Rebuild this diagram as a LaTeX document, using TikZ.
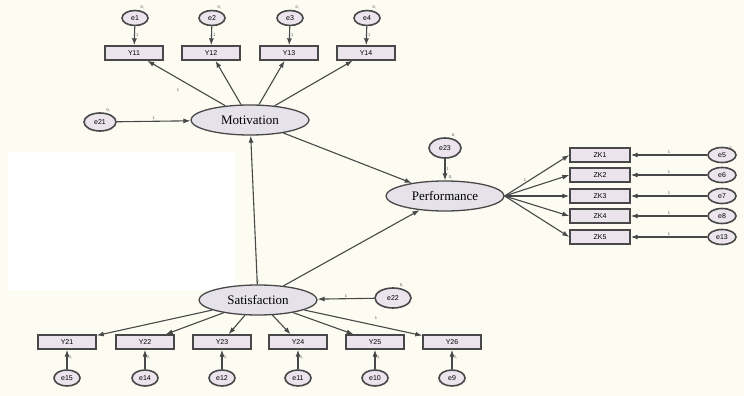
\documentclass[tikz,border=0pt]{standalone}
\usepackage{fontspec}
\setmainfont{Liberation Serif}
\setsansfont{Liberation Sans}
\usetikzlibrary{arrows.meta,shapes.geometric}
\definecolor{bg}{HTML}{FCFCF3}
\definecolor{boxfill}{HTML}{EBE4ED}
\definecolor{ellfill}{HTML}{E6E2EA}
\definecolor{edge}{HTML}{484848}
\tikzset{
  obs/.style={draw=edge, line width=1.4pt, fill=boxfill, minimum width=58pt, minimum height=14pt, inner sep=0pt, font=\sffamily\fontsize{7}{7}\selectfont},
  err/.style={ellipse, draw=edge, line width=1.6pt, fill=boxfill, minimum width=26pt, minimum height=15pt, inner sep=0pt, font=\sffamily\fontsize{7}{7}\selectfont},
  lat/.style={ellipse, draw=edge, line width=1.3pt, fill=ellfill, minimum width=118pt, minimum height=30pt, inner sep=0pt, font=\fontsize{13}{13}\selectfont},
  conn/.style={draw=edge, line width=1.1pt, -{Latex[length=7pt,width=5pt]}},
  one/.style={font=\sffamily\fontsize{4}{4}\selectfont, text=edge, inner sep=1pt},
  zero/.style={label={[one]60:0,}},
}
\begin{document}
\begin{tikzpicture}[x=1pt,y=-1pt]
\useasboundingbox (0,0) rectangle (744,396);
\fill[bg] (0,0) rectangle (744,396);
\fill[white] (8,152) rectangle (235,290);

% latent variables
\node[lat] (M) at (250,120) {Motivation};
\node[lat, label={[one]80:0,}] (P) at (445,196) {Performance};
\node[lat, label={[one]90:0,}] (S) at (258,300) {Satisfaction};

% motivation indicators
\foreach \i/\x in {1/134,2/211,3/289,4/366}{
  \node[obs] (Y1\i) at (\x,53) {Y1\i};
  \node[err, zero] (e\i) at (\x+1,18) {e\i};
  \draw[conn] (e\i) -- node[one, right, pos=0.45] {1} (Y1\i);
  \draw[conn] (M) -- (Y1\i);
}
\node[one] at (178,90) {1};

\node[err, minimum width=32pt, minimum height=18pt, zero] (e21) at (100,122) {e21};
\draw[conn] (e21) -- node[one, above] {1} (M);

% performance
\node[err, minimum width=32pt, minimum height=20pt, zero] (e23) at (445,148) {e23};
\draw[conn] (e23) -- node[one, right] {1} (P);
\draw[conn] (M) -- (P);
\draw[conn] (S) -- (M);
\draw[conn] (S) -- (P);

\foreach \i/\y/\e in {1/155/e5,2/175/e6,3/196/e7,4/216/e8,5/237/e13}{
  \node[obs, minimum width=60pt] (ZK\i) at (600,\y) {ZK\i};
  \node[err, minimum width=28pt] (\e) at (722,\y) {\e};
  \draw[conn] (\e) -- node[one, above] {1} (ZK\i);
  \draw[conn] (P.east) -- (ZK\i.west);
}
\node[one] at (731,148) {0,};
\node[one] at (525,180) {1};

% satisfaction
\node[err, minimum width=36pt, minimum height=20pt, zero] (e22) at (393,298) {e22};
\draw[conn] (e22) -- node[one, above] {1} (S);

\foreach \i/\x/\e in {1/67/e15,2/145/e14,3/222/e12,4/298/e11,5/375/e10,6/452/e9}{
  \node[obs] (Y2\i) at (\x,342) {Y2\i};
  \node[err, minimum width=26pt, minimum height=16pt] (\e) at (\x,378) {\e};
  \draw[conn] (\e) -- node[one, right, pos=0.6] {0,} (Y2\i);
  \draw[conn] (S) -- (Y2\i);
}
\node[one] at (376,318) {1};
\end{tikzpicture}
\end{document}
